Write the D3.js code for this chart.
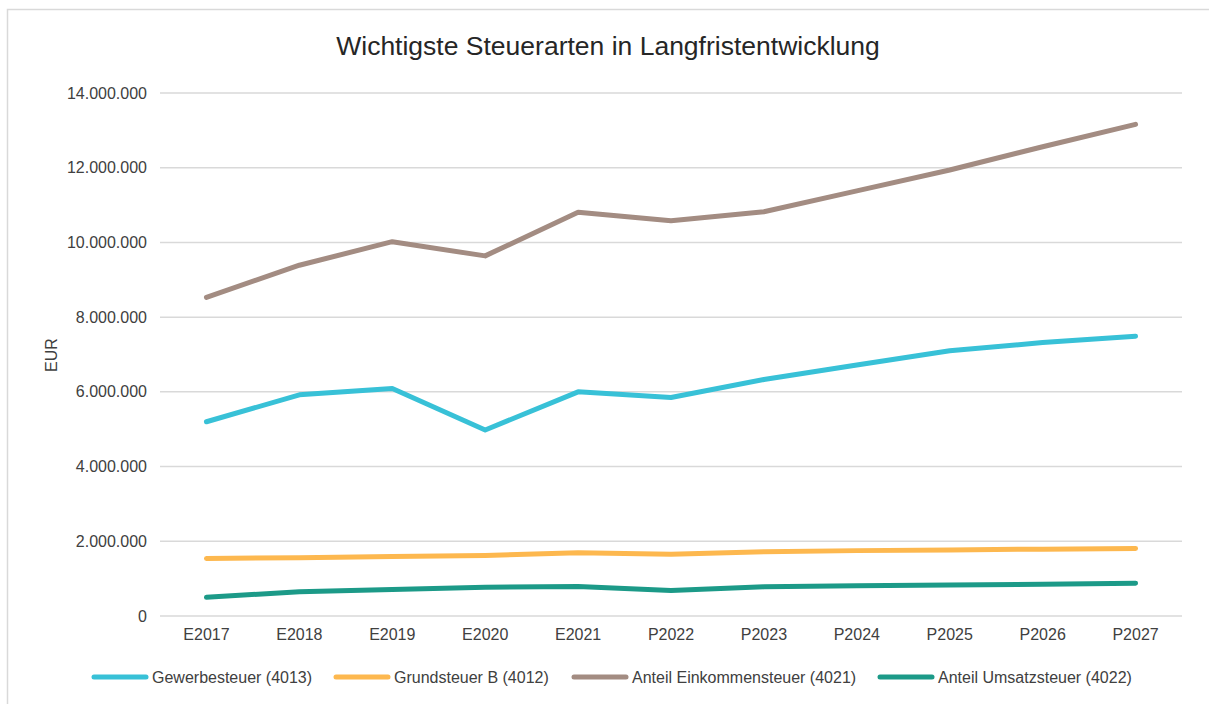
<!DOCTYPE html>
<html><head><meta charset="utf-8">
<script src="https://cdn.jsdelivr.net/npm/d3@7"></script>
<style>
html,body{margin:0;padding:0;background:#fff;}
svg{display:block;font-family:"Liberation Sans",Arial,sans-serif;}
</style></head><body>
<svg id="chart" width="1209" height="704"></svg>
<script>
const categories = ["E2017","E2018","E2019","E2020","E2021","P2022","P2023","P2024","P2025","P2026","P2027"];
const seriesNames = ["Gewerbesteuer (4013)","Grundsteuer B (4012)","Anteil Einkommensteuer (4021)","Anteil Umsatzsteuer (4022)"];
const gewerbe = [5200000,5920000,6090000,4980000,6000000,5850000,6330000,6720000,7100000,7320000,7490000];
const grund = [1540000,1560000,1590000,1620000,1690000,1650000,1720000,1750000,1770000,1790000,1810000];
const einkommen = [8530000,9390000,10020000,9640000,10810000,10580000,10820000,11380000,11940000,12560000,13160000];
const umsatz = [500000,650000,710000,770000,790000,680000,780000,810000,830000,850000,880000];
const yTicks = [0,2000000,4000000,6000000,8000000,10000000,12000000,14000000];
const colors = ["#38C1D7","#FDB84F","#A38C82","#1C9A88"];
const series = [gewerbe, grund, einkommen, umsatz];

const svg = d3.select("#chart");
svg.append("rect").attr("x",7.5).attr("y",9.5).attr("width",1220).attr("height",720)
  .attr("fill","#fff").attr("stroke","#d9d9d9").attr("stroke-width",1.5);

const x = d3.scaleBand().domain(categories).range([160,1182]);
const y = d3.scaleLinear().domain([0,14000000]).range([616,93]);
const fmt = v => d3.format(",")(v).replace(/,/g,".");

// grid
svg.append("g").selectAll("line").data(yTicks).join("line")
  .attr("x1",160).attr("x2",1182).attr("y1",d=>y(d)).attr("y2",d=>y(d))
  .attr("stroke","#d9d9d9").attr("stroke-width",1.5);

// y axis
const yAxis = svg.append("g").attr("transform","translate(160,0)")
  .call(d3.axisLeft(y).tickValues(yTicks).tickFormat(fmt).tickSize(0).tickPadding(13));
yAxis.select(".domain").remove();
yAxis.selectAll("text").attr("font-size",16).attr("fill","#404040").attr("font-family","Liberation Sans, Arial, sans-serif");

// x axis
const xAxis = svg.append("g").attr("transform","translate(0,616)")
  .call(d3.axisBottom(x).tickSize(0).tickPadding(13));
xAxis.select(".domain").remove();
xAxis.selectAll("text").attr("font-size",16).attr("fill","#404040").attr("font-family","Liberation Sans, Arial, sans-serif");

// lines
const line = d3.line().x((d,i)=>x(categories[i])+x.bandwidth()/2).y(d=>y(d));
series.forEach((s,k)=>{
  svg.append("path").datum(s).attr("d",line).attr("fill","none")
    .attr("stroke",colors[k]).attr("stroke-width",5)
    .attr("stroke-linecap","round").attr("stroke-linejoin","round");
});

// title
svg.append("text").attr("x",608).attr("y",55).attr("text-anchor","middle")
  .attr("font-size",26.5).attr("fill","#262626").text("Wichtigste Steuerarten in Langfristentwicklung");

// y label
svg.append("text").attr("transform","translate(57,355) rotate(-90)").attr("text-anchor","middle")
  .attr("font-size",16).attr("fill","#404040").text("EUR");

// legend
const legX = [94,336,574,880];
const leg = svg.append("g");
seriesNames.forEach((n,k)=>{
  leg.append("line").attr("x1",legX[k]).attr("x2",legX[k]+52).attr("y1",677).attr("y2",677)
    .attr("stroke",colors[k]).attr("stroke-width",5).attr("stroke-linecap","round");
  leg.append("text").attr("x",legX[k]+58).attr("y",682.5).attr("font-size",16).attr("fill","#404040").text(n);
});
</script>
</body></html>
